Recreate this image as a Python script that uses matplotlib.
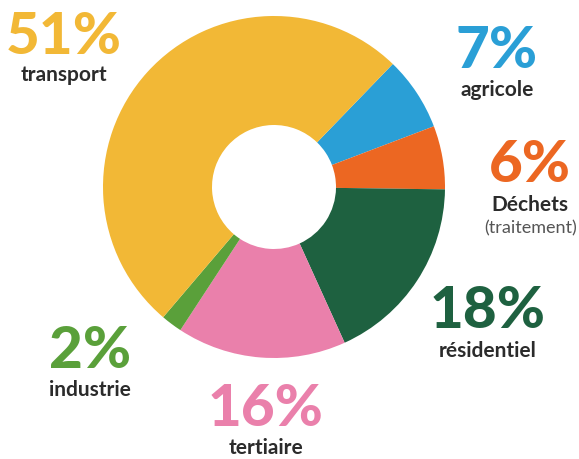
import matplotlib.pyplot as plt
from matplotlib.patches import Wedge

# Émissions par secteur (%)
sectors = ["agricole", "Déchets", "résidentiel", "tertiaire", "industrie", "transport"]
shares = [7, 6, 18, 16, 2, 51]
colors = ["#2A9FD6", "#EC6722", "#1E6140", "#EA80AB", "#5AA03A", "#F2B836"]
pct_labels = ["7%", "6%", "18%", "16%", "2%", "51%"]

plt.rcParams['font.family'] = ['Lato', 'DejaVu Sans']

fig = plt.figure(figsize=(5.79, 4.59), dpi=100)
ax = fig.add_axes([0, 0, 1, 1])
ax.set_xlim(0, 579)
ax.set_ylim(459, 0)
ax.axis('off')

cx, cy, r_out, r_in = 274, 187, 171, 62
start = 46.0
for val, col in zip(shares, colors):
    span = val * 3.6
    # y axis inverted -> angles measured clockwise on screen, so negate
    w = Wedge((cx, cy), r_out, -start, -start + span, width=r_out - r_in,
              facecolor=col, edgecolor='none')
    ax.add_patch(w)
    start -= span

dark = "#2B2B2B"
# (x, y of big number, y of label)
pos = {
    "transport": (64, 37, 75),
    "agricole": (497, 51, 90),
    "Déchets": (530, 166, 205),
    "résidentiel": (488, 312, 351),
    "industrie": (90, 352, 390),
    "tertiaire": (266, 410, 448),
}
for name, pct, col in zip(sectors, pct_labels, colors):
    x, yp, yl = pos[name]
    ax.text(x, yp, pct, color=col, fontsize=42, fontweight='black',
            ha='center', va='center')
    ax.text(x, yl, name, color=dark, fontsize=15, fontweight='bold',
            ha='center', va='center')
ax.text(531, 228, "(traitement)", color="#555555", fontsize=13,
        ha='center', va='center')

fig.savefig("out.png", dpi=100)
